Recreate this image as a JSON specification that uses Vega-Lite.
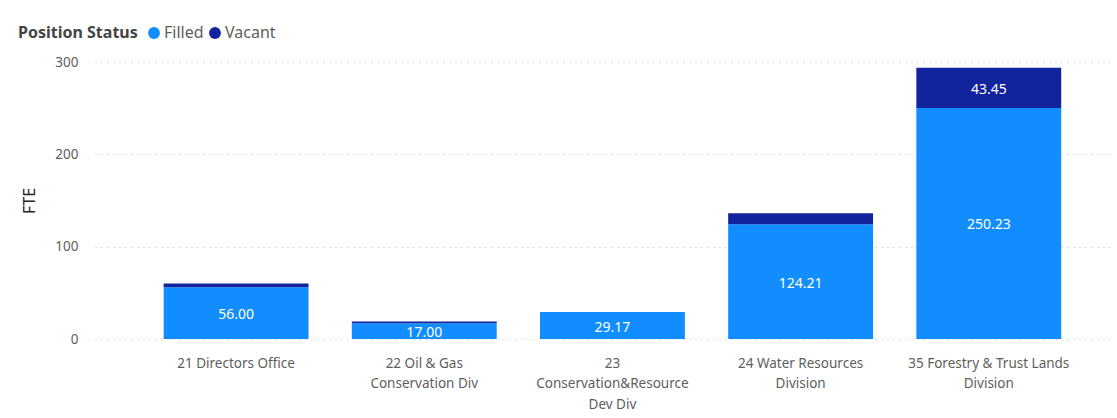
{
  "$schema": "https://vega.github.io/schema/vega-lite/v6.json",
  "width": 1018,
  "height": 277,
  "autosize": {"type": "none"},
  "padding": {"left": 95, "top": 62, "right": 4, "bottom": 79},
  "background": "white",
  "config": {"view": {"stroke": null}, "font": "Noto Sans"},
  "data": {"values": [
    {"division": "21 Directors Office", "status": "Filled", "fte": 56.00},
    {"division": "21 Directors Office", "status": "Vacant", "fte": 4.0},
    {"division": "22 Oil & Gas Conservation Div", "status": "Filled", "fte": 17.00},
    {"division": "22 Oil & Gas Conservation Div", "status": "Vacant", "fte": 2.0},
    {"division": "23 Conservation&Resource Dev Div", "status": "Filled", "fte": 29.17},
    {"division": "24 Water Resources Division", "status": "Filled", "fte": 124.21},
    {"division": "24 Water Resources Division", "status": "Vacant", "fte": 12.0},
    {"division": "35 Forestry & Trust Lands Division", "status": "Filled", "fte": 250.23},
    {"division": "35 Forestry & Trust Lands Division", "status": "Vacant", "fte": 43.45}
  ]},
  "transform": [
    {"stack": "fte", "groupby": ["division"], "sort": [{"field": "status", "order": "ascending"}], "as": ["y0", "y1"]},
    {"calculate": "(datum.y0 + datum.y1) / 2", "as": "ymid"}
  ],
  "encoding": {
    "x": {
      "field": "division",
      "type": "nominal",
      "sort": null,
      "scale": {"paddingInner": 0.23, "paddingOuter": 0.32, "align": 0.57},
      "axis": {
        "title": null,
        "labelAngle": 0,
        "domain": false,
        "ticks": false,
        "labelPadding": 17,
        "labelFontSize": 13.5,
        "labelColor": "#605E5C",
        "labelLineHeight": 20.5,
        "labelBaseline": "top",
        "labelExpr": "datum.value == '22 Oil & Gas Conservation Div' ? ['22 Oil & Gas', 'Conservation Div'] : datum.value == '23 Conservation&Resource Dev Div' ? ['23', 'Conservation&Resource', 'Dev Div'] : datum.value == '24 Water Resources Division' ? ['24 Water Resources', 'Division'] : datum.value == '35 Forestry & Trust Lands Division' ? ['35 Forestry & Trust Lands', 'Division'] : datum.value"
      }
    }
  },
  "layer": [
    {
      "mark": {"type": "bar"},
      "encoding": {
        "y": {
          "field": "y0",
          "type": "quantitative",
          "scale": {"domain": [0, 300], "nice": false},
          "axis": {
            "title": "FTE",
            "values": [0, 100, 200, 300],
            "grid": true,
            "gridDash": [1, 5],
            "gridColor": "#BDBDBD",
            "gridWidth": 1,
            "domain": false,
            "ticks": false,
            "labelPadding": 17,
            "labelFontSize": 13.5,
            "labelColor": "#605E5C",
            "titleFontSize": 16,
            "titleFontWeight": "normal",
            "titleColor": "#252423",
            "titlePadding": 17
          }
        },
        "y2": {"field": "y1"},
        "color": {
          "field": "status",
          "type": "nominal",
          "scale": {"domain": ["Filled", "Vacant"], "range": ["#118DFF", "#12239E"]},
          "legend": {
            "title": "Position Status",
            "orient": "none",
            "legendX": -77,
            "legendY": -37,
            "direction": "horizontal",
            "titleOrient": "left",
            "titleFontWeight": "bold",
            "titleFontSize": 16,
            "titleColor": "#444444",
            "titlePadding": 8,
            "labelFontSize": 16,
            "labelColor": "#605E5C",
            "labelOffset": 2,
            "symbolType": "circle",
            "symbolSize": 140,
            "symbolOpacity": 1,
            "columnPadding": 3
          }
        }
      }
    },
    {
      "transform": [{"filter": "datum.status == 'Filled' || datum.fte > 20"}],
      "mark": {"type": "text", "color": "white", "fontSize": 14, "baseline": "middle", "dy": 2},
      "encoding": {
        "y": {"field": "ymid", "type": "quantitative"},
        "text": {"field": "fte", "type": "quantitative", "format": ".2f"}
      }
    }
  ]
}
